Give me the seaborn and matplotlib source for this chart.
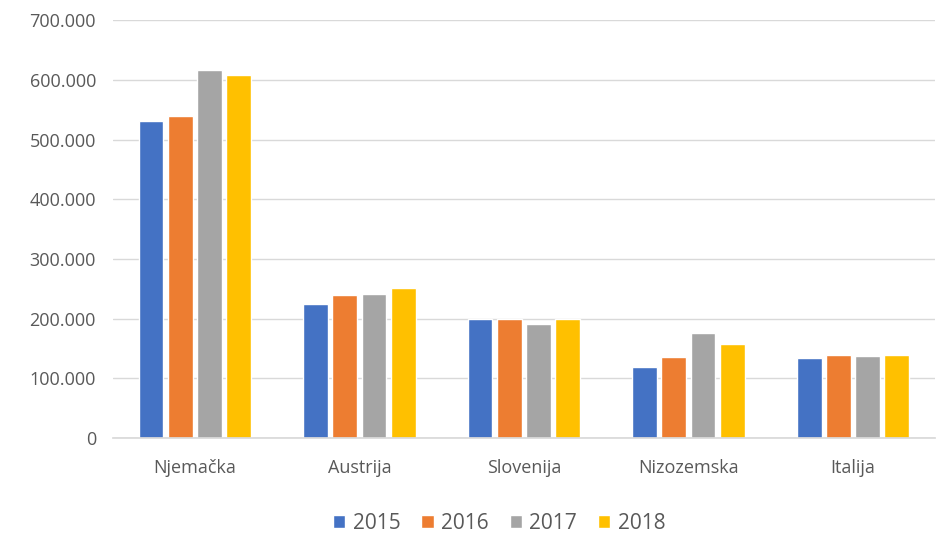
import pandas as pd
import seaborn as sns
import matplotlib.pyplot as plt
from matplotlib.ticker import FuncFormatter

# Data
countries = ['Njemačka', 'Austrija', 'Slovenija', 'Nizozemska', 'Italija']
years = ['2015', '2016', '2017', '2018']
v2015 = [531000, 225000, 199000, 118000, 134000]
v2016 = [540000, 239000, 199000, 135000, 139000]
v2017 = [617000, 241000, 191000, 176000, 137000]
v2018 = [609000, 251000, 199000, 157000, 139000]
colors = ['#4472C4', '#ED7D31', '#A5A5A5', '#FFC000']

df = pd.DataFrame({'country': countries, '2015': v2015, '2016': v2016,
                   '2017': v2017, '2018': v2018})
df_long = pd.melt(df, id_vars='country', value_vars=years,
                  var_name='year', value_name='total')

sns.set_theme(style='white')
plt.rcParams['font.family'] = ['Open Sans', 'DejaVu Sans']

fig, ax = plt.subplots(figsize=(9.38, 5.34), dpi=100)
fig.subplots_adjust(left=0.12, right=0.997, top=0.962, bottom=0.18)

sns.barplot(data=df_long, x='country', y='total', hue='year',
            palette=colors, width=0.71, gap=0.15, ax=ax, saturation=1)

ax.set_ylim(0, 700000)
ax.set_yticks(range(0, 700001, 100000))
ax.yaxis.set_major_formatter(FuncFormatter(
    lambda v, p: '0' if v == 0 else f'{int(v):,}'.replace(',', '.')))
ax.grid(axis='y', color='#D9D9D9', linewidth=1)
ax.set_axisbelow(True)
for s in ['top', 'right', 'left']:
    ax.spines[s].set_visible(False)
ax.spines['bottom'].set_color('#D9D9D9')
ax.set_xlabel('')
ax.set_ylabel('')
ax.tick_params(axis='both', colors='#595959', labelsize=13, length=0)
ax.tick_params(axis='y', pad=12)
ax.tick_params(axis='x', pad=15)

ax.legend(loc='upper center', bbox_to_anchor=(0.47, -0.135), ncol=4,
          frameon=False, fontsize=15, handlelength=0.6, handleheight=0.6,
          handletextpad=0.35, columnspacing=1.0, labelcolor='#595959')

fig.savefig('out.png')
